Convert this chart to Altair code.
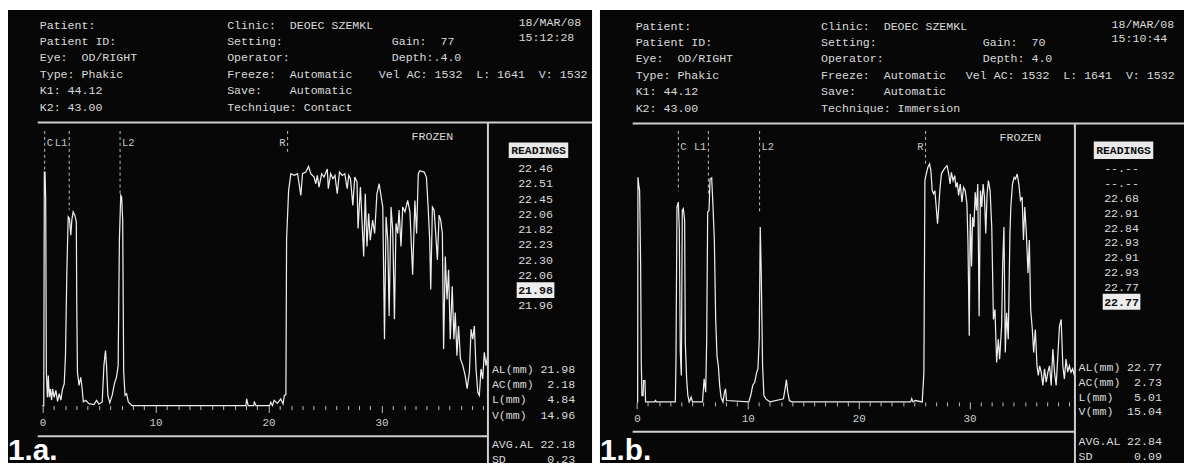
import altair as alt
import pandas as pd

# ---------------- data ----------------
# Panel 1.a  (A-scan trace: depth in mm, echo amplitude in % of screen)
A_MM = [0.0, 0.12, 0.17, 0.23, 0.29, 0.35, 0.44, 0.52, 0.61, 0.70, 0.81, 0.90, 1.04, 1.19, 1.34, 1.49, 1.63,
        1.78, 1.93, 2.04, 2.16, 2.28, 2.39, 2.51, 2.60, 2.72, 2.86, 3.00, 3.04, 3.10, 3.24, 3.39, 3.50, 3.62,
        3.83, 4.12, 4.56, 4.79, 5.00, 5.29, 5.44, 5.58, 5.67, 5.79, 5.96, 6.17, 6.37, 6.55, 6.70, 6.81, 6.93,
        7.01, 7.10, 7.19, 7.31, 7.45, 7.60, 7.92, 18.0, 18.07, 18.2, 18.7, 18.74, 18.89, 20.1, 20.2, 20.35,
        20.5, 20.79, 21.08, 21.29, 21.4, 21.54, 21.6, 21.78, 21.98, 22.28, 22.57, 22.86, 23.01, 23.3, 23.54,
        23.74, 24.03, 24.18, 24.32, 24.47, 24.7, 24.91, 25.2, 25.29, 25.5, 25.7, 25.88, 26.08, 26.28, 26.52,
        26.75, 26.96, 27.1, 27.25, 27.46, 27.63, 27.83, 27.92, 28.13, 28.27, 28.42, 28.56, 28.71, 28.86, 29.0,
        29.21, 29.39, 29.59, 29.79, 29.97, 30.11, 30.26, 30.4, 30.55, 30.67, 30.84, 30.99, 31.14, 31.28,
        31.43, 31.55, 31.72, 31.87, 32.07, 32.31, 32.51, 32.75, 32.95, 33.1, 33.25, 33.39, 33.77, 33.97,
        34.12, 34.26, 34.35, 34.5, 34.65, 34.79, 34.94, 35.09, 35.23, 35.38, 35.49, 35.64, 35.79, 35.93,
        36.08, 36.25, 36.4, 36.52, 36.67, 36.81, 36.98, 37.19, 37.4, 37.57, 37.77, 37.92, 38.07, 38.21,
        38.36, 38.51, 38.65, 38.8, 38.95, 39.09, 39.24, 39.39]
A_AMP = [0, 0, 84.1, 84.1, 74.5, 12.0, 3.0, 10.8, 3.0, 6.0, 2.0, 6.0, 3.0, 5.5, 1.5, 4.3, 2.0,
         6.0, 7.8, 18.0, 47.7, 68.0, 67.4, 61.4, 66.8, 69.8, 68.6, 66.2, 35.8, 12.0, 7.3, 10.2, 6.7, 1.3,
         1.9, 0.7, 0.4, 1.9, 0.5, 1.3, 14.4, 19.8, 14.4, 3.7, 1.0, 3.7, 7.9, 10.2, 14.4, 59.6, 75.7,
         75.1, 66.8, 12.0, 3.7, 4.3, 1.3, 0, 0, 2.4, 0, 0, 1.5, 0, 0, 1.2, 0,
         1.9, 0.8, 2.4, 0.6, 3.7, 4.0, 60.0, 77.5, 83.5, 82.9, 83.5, 75.7, 83.5, 84.1, 86.1,
         83.5, 82.3, 79.9, 82.9, 78.7, 83.5, 82.3, 85.2, 78.1, 83.5, 81.7, 82.9, 76.3, 84.1, 82.9,
         83.5, 78.1, 82.9, 81.7, 72.1, 82.3, 80.5, 63.8, 78.7, 66.8, 53.7, 76.3, 57.3, 69.2, 59.6,
         66.8, 62.0, 76.3, 79.9, 75.1, 71.5, 23.9, 68.0, 59.6, 32.3, 71.5, 63.2, 31.1, 65.6,
         62.0, 70.4, 57.3, 71.5, 69.8, 73.9, 69.8, 47.1, 73.9, 62.0, 83.5, 84.6, 84.1, 82.3,
         71.5, 59.6, 41.8, 71.5, 70.4, 62.0, 52.5, 68.6, 66.8, 62.0, 20.4, 53.7, 38.2, 48.9,
         23.9, 43.0, 23.9, 33.5, 18.0, 28.7, 16.8, 14.4, 10.8, 6.1, 12.0, 27.5, 23.9, 28.7,
         13.2, 4.9, 3.7, 13.2, 9.6, 19.2, 14.4, 18.0]

# Panel 1.b
B_MM = [0.0, 0.06, 0.09, 0.17, 0.24, 0.33, 0.39, 0.45, 0.55, 0.60, 0.72, 0.78, 1.60, 1.67, 1.75, 3.46, 3.52,
        3.61, 3.73, 3.82, 3.91, 4.00, 4.09, 4.18, 4.30, 4.36, 4.48, 4.59, 4.71, 4.89, 5.01, 5.91, 6.06, 6.20,
        6.29, 6.38, 6.50, 6.59, 6.74, 6.86, 6.98, 7.10, 7.22, 7.34, 7.46, 7.58, 7.76, 7.90, 7.99, 8.08, 10.08,
        10.26, 10.44, 10.62, 10.80, 10.91, 11.03, 11.12, 11.21, 11.33, 11.45, 11.63, 11.81, 12.02, 13.21,
        13.36, 13.48, 13.60, 13.75, 13.96, 24.69, 24.78, 24.90, 25.08, 25.73, 25.88, 25.97, 26.09, 26.24,
        26.39, 26.51, 26.63, 26.75, 26.87, 26.99, 27.11, 27.22, 27.34, 27.46, 27.61, 27.82, 27.97, 28.12,
        28.24, 28.36, 28.51, 28.66, 28.77, 28.89, 29.01, 29.16, 29.31, 29.46, 29.61, 29.76, 29.85, 29.97,
        30.06, 30.18, 30.27, 30.39, 30.51, 30.62, 30.74, 30.86, 30.98, 31.10, 31.22, 31.34, 31.46, 31.58,
        31.70, 31.85, 32.00, 32.15, 32.29, 32.44, 32.59, 32.71, 32.89, 32.98, 33.10, 33.22, 33.34, 33.49,
        33.64, 33.72, 33.87, 34.02, 34.14, 34.29, 34.44, 34.59, 34.74, 34.86, 34.98, 35.12, 35.27, 35.39,
        35.51, 35.66, 35.78, 35.93, 36.08, 36.20, 36.32, 36.46, 36.61, 36.76, 36.91, 37.06, 37.21, 37.36,
        37.51, 37.66, 37.81, 37.96, 38.11, 38.26, 38.41, 38.55, 38.70, 38.85, 39.00, 39.15, 39.30, 39.45]
B_AMP = [0, 0, 80.9, 78.0, 76.1, 50.0, 14.2, 2.3, 2.3, 7.7, 7.7, 0, 0, 0.5, 0, 0, 15.4,
         70.2, 72.0, 61.9, 17.8, 9.5, 69.0, 69.6, 65.4, 21.4, 8.3, 2.3, 0, 1.7, 0, 0, 8.3, 3.5,
         22.6, 68.4, 69.0, 80.3, 80.7, 70.2, 58.3, 29.7, 16.6, 13.0, 5.9, 1.7, 0, 3.5, 4.7, 0.5, 0,
         2.3, 5.9, 7.1, 10.7, 11.9, 22.6, 63.0, 46.4, 13.0, 2.3, 1.1, 0.5, 0, 1.1,
         4.7, 8.0, 3.5, 0.5, 0, 0, 1.2, 0, 0.5, 0, 10.7, 79.7, 82.1, 84.5,
         85.7, 83.3, 76.1, 75.0, 76.1, 70.2, 64.2, 70.2, 77.3, 82.1, 83.3, 84.5, 85.1, 82.1,
         78.5, 82.7, 79.7, 81.5, 77.3, 79.1, 74.4, 78.5, 72.0, 77.3, 76.1, 71.4, 58.3, 23.8,
         67.8, 48.8, 66.6, 63.0, 75.5, 69.0, 78.5, 30.9, 76.1, 70.2, 78.5, 73.8, 60.7, 75.0,
         79.7, 76.1, 63.0, 29.7, 33.3, 14.2, 22.6, 15.4, 27.3, 48.8, 63.0, 17.8, 32.1, 22.6,
         60.7, 70.2, 78.5, 80.9, 80.3, 82.1, 78.5, 72.6, 73.8, 58.3, 70.2, 60.7, 46.4, 58.3,
         33.3, 26.1, 17.8, 26.1, 13.0, 9.5, 13.0, 10.7, 5.9, 11.9, 7.1, 10.7, 13.0, 5.9,
         19.0, 10.7, 5.9, 16.6, 27.3, 29.7, 13.0, 8.3, 15.4, 10.7, 13.0, 10.7, 11.9, 9.5]

# gate markers
MARK_NAMES = ["C", "L1", "L2", "R"]
MARK_SIDE = ["right", "left", "right", "left"]
A_MARK_MM = [0.20, 2.37, 6.87, 21.69]
A_MARK_END = [84.6, 70.4, 76.4, 91.0]
B_MARK_MM = [3.73, 6.44, 11.06, 26.03]
B_MARK_END = [75.9, 74.1, 67.6, 85.8]

X_TICKS = list(range(0, 40))

# header texts
A_COL1 = ["Patient:", "Patient ID:", "Eye:  OD/RIGHT", "Type: Phakic", "K1: 44.12", "K2: 43.00"]
A_COL2 = ["Clinic:  DEOEC SZEMKL", "Setting:", "Operator:", "Freeze:  Automatic", "Save:    Automatic",
          "Technique: Contact"]
A_COL3 = ["Gain:  77", "Depth:.4.0"]
A_VEL = "Vel AC: 1532  L: 1641  V: 1532"
A_DATE = ["18/MAR/08", "15:12:28"]

B_COL1 = ["Patient:", "Patient ID:", "Eye:  OD/RIGHT", "Type: Phakic", "K1: 44.12", "K2: 43.00"]
B_COL2 = ["Clinic:  DEOEC SZEMKL", "Setting:", "Operator:", "Freeze:  Automatic", "Save:    Automatic",
          "Technique: Immersion"]
B_COL3 = ["Gain:  70", "Depth: 4.0"]
B_VEL = "Vel AC: 1532  L: 1641  V: 1532"
B_DATE = ["18/MAR/08", "15:10:44"]

A_READINGS = ["22.46", "22.51", "22.45", "22.06", "21.82", "22.23", "22.30", "22.06", "21.98", "21.96"]
A_SEL = 8
B_READINGS = ["--.--", "--.--", "22.68", "22.91", "22.84", "22.93", "22.91", "22.93", "22.77", "22.77"]
B_SEL = 9

STAT_LABELS = ["AL(mm)", "AC(mm)", "L(mm)", "V(mm)"]
A_STATS = ["21.98", "2.18", "4.84", "14.96"]
B_STATS = ["22.77", "2.73", "5.01", "15.04"]
A_AVG = ["22.18", "0.23"]
B_AVG = ["22.84", "0.09"]
PANEL_TAGS = ["1.a.", "1.b."]

# ---------------- styling ----------------
MONO = "Liberation Mono"
FS = 11.7
TXT = "#dadada"
TRACE = "#ececec"
LINE = "#cfcfcf"
ONE = alt.Data(values=[{"k": 1}])


def nb(s):
    return s.replace(" ", "\u00a0")


def txt(px, py, s, align="left", size=FS, color=TXT, font=MONO, weight="normal", baseline="middle"):
    return alt.Chart(ONE).mark_text(text=nb(s), align=align, baseline=baseline, font=font,
                                    fontSize=size, color=color, fontWeight=weight).encode(
        x=alt.value(px), y=alt.value(py))


def rect(x1, x2, y1, y2, color):
    return alt.Chart(ONE).mark_rect(color=color).encode(
        x=alt.value(x1), x2=alt.value(x2), y=alt.value(y1), y2=alt.value(y2))


def rule(x1, x2, y1, y2, color=LINE, w=2):
    return alt.Chart(ONE).mark_rule(color=color, strokeWidth=w).encode(
        x=alt.value(x1), x2=alt.value(x2), y=alt.value(y1), y2=alt.value(y2))


def panel(mm, amp, mark_mm, mark_end, L, col1, col2, col3, vel, date, readings, sel, stats, avg, tag):
    W, H = L["W"], 457
    xscale = alt.Scale(domain=L["xdom"], nice=False, zero=False)
    yscale = alt.Scale(domain=L["ydom"], nice=False, zero=False)
    xaxis = alt.Axis(values=X_TICKS, offset=-L["off"], domain=False, grid=False, title=None,
                     tickColor="#bdbdbd", tickWidth=1,
                     tickSize={"condition": {"test": "datum.value % 10 === 0", "value": 7}, "value": 4},
                     labelExpr="datum.value % 10 === 0 ? datum.label : ''",
                     labelFont=MONO, labelFontSize=11, labelColor="#cfcfcf", labelPadding=4,
                     labelOverlap=False, labelFlush=False)

    df = pd.DataFrame({"mm": mm, "amp": amp})
    trace = alt.Chart(df).mark_line(color=TRACE, strokeWidth=1.25).encode(
        x=alt.X("mm:Q", scale=xscale, axis=xaxis),
        y=alt.Y("amp:Q", scale=yscale, axis=None),
        order=alt.Order("mm:Q"))

    mk = pd.DataFrame({"name": MARK_NAMES, "side": MARK_SIDE, "mm": mark_mm, "end": mark_end,
                       "top": [L["top"]] * 4, "lab": [L["lab"]] * 4})
    dashes = alt.Chart(mk).mark_rule(color="#bfbfbf", strokeWidth=1, strokeDash=[3, 3]).encode(
        x=alt.X("mm:Q", scale=xscale, axis=xaxis),
        y=alt.Y("top:Q", scale=yscale, axis=None), y2="end:Q")
    lab_r = alt.Chart(mk).transform_filter("datum.side == 'right'").mark_text(
        align="left", dx=2, font=MONO, fontSize=10.5, color="#c8c8c8").encode(
        x=alt.X("mm:Q", scale=xscale, axis=xaxis),
        y=alt.Y("lab:Q", scale=yscale, axis=None), text="name:N")
    lab_l = alt.Chart(mk).transform_filter("datum.side == 'left'").mark_text(
        align="right", dx=-2, font=MONO, fontSize=10.5, color="#c8c8c8").encode(
        x=alt.X("mm:Q", scale=xscale, axis=xaxis),
        y=alt.Y("lab:Q", scale=yscale, axis=None), text="name:N")

    layers = [trace, dashes, lab_r, lab_l]

    # frame lines
    layers += [rule(L["lx"], W, L["ty"], L["ty"]),
               rule(L["vx"], L["vx"], L["ty"], H),
               rule(L["lx"], L["vx"], L["by"], L["by"])]

    # header
    for i, s in enumerate(col1):
        layers.append(txt(L["c1"], L["r0"] + i * L["dr"], s))
    for i, s in enumerate(col2):
        layers.append(txt(L["c2"], L["r0"] + i * L["dr"], s))
    for i, s in enumerate(col3):
        layers.append(txt(L["c3"], L["r0"] + (i + 1) * L["dr"], s))
    layers.append(txt(L["cv"], L["r0"] + 3 * L["dr"], vel))
    layers.append(txt(L["cd"], L["d0"], date[0]))
    layers.append(txt(L["cd"], L["d0"] + 14.5, date[1]))

    # FROZEN
    layers.append(txt(L["fx"], L["fy"], "FROZEN", align="center"))

    # readings column
    bx1, bx2, by1, by2 = L["rbox"]
    layers.append(rect(bx1, bx2, by1, by2, "#e9e9e9"))
    layers.append(txt((bx1 + bx2) / 2, (by1 + by2) / 2 + 0.5, "READINGS", align="center", color="#111111",
                      weight="bold", size=11.5))
    for i, s in enumerate(readings):
        y = L["rd0"] + i * L["rdd"]
        if i == sel:
            layers.append(rect(L["rx"] - 19, L["rx"] + 19, y - 8, y + 8, "#ededed"))
            layers.append(txt(L["rx"], y, s, align="center", color="#111111", weight="bold"))
        else:
            layers.append(txt(L["rx"], y, s, align="center"))

    # stats
    for i, (lab, val) in enumerate(zip(STAT_LABELS, stats)):
        y = L["s0"] + i * L["sd"]
        layers.append(txt(L["sx"], y, lab))
        layers.append(txt(L["sv"], y, val, align="right"))
    for i, (lab, val) in enumerate(zip(["AVG.AL", "SD"], avg)):
        y = L["a0"] + i * 14.7
        layers.append(txt(L["sx"], y, lab))
        layers.append(txt(L["sv"], y, val, align="right"))

    # panel tag
    layers.append(txt(0, H - 3, tag, font="Liberation Sans", size=30, color="#ffffff", weight="bold",
                      baseline="alphabetic"))

    return alt.layer(*layers).properties(width=W, height=H)


LA = dict(W=589, xdom=[-3.044, 48.62], ydom=[-20.7, 142.5], off=58, top=98.9, lab=94.6,
          lx=30, vx=484, ty=113.5, by=430,
          c1=32, c2=221, c3=387, cv=374, cd=515, r0=15, dr=16.5, d0=12.7,
          fx=428, fy=127, rbox=(505, 565, 133.7, 149.3), rx=532, rd0=159.7, rdd=15.35,
          sx=488, sv=572, s0=362, sd=15.4, a0=438)
LB = dict(W=589, xdom=[-3.336, 49.34], ydom=[-22.04, 141.2], off=61.7, top=97.6, lab=91.9,
          lx=33, vx=479, ty=114.5, by=425.5,
          c1=36, c2=223, c3=386, cv=369, cd=516, r0=16, dr=16.5, d0=14,
          fx=424, fy=128, rbox=(498, 558, 132.7, 150.3), rx=526, rd0=159.7, rdd=14.95,
          sx=482.7, sv=566.7, s0=360.3, sd=14.8, a0=434.7)

pa = panel(A_MM, A_AMP, A_MARK_MM, A_MARK_END, LA, A_COL1, A_COL2, A_COL3, A_VEL, A_DATE,
           A_READINGS, A_SEL, A_STATS, A_AVG, PANEL_TAGS[0])
pb = panel(B_MM, B_AMP, B_MARK_MM, B_MARK_END, LB, B_COL1, B_COL2, B_COL3, B_VEL, B_DATE,
           B_READINGS, B_SEL, B_STATS, B_AVG, PANEL_TAGS[1])

chart = alt.hconcat(pa, pb, spacing=7).properties(padding=0).configure(background="#ffffff").configure_view(
    fill="#070707", stroke=None, strokeWidth=0)

chart.save("out.html", embed_options={"renderer": "svg", "actions": False})
